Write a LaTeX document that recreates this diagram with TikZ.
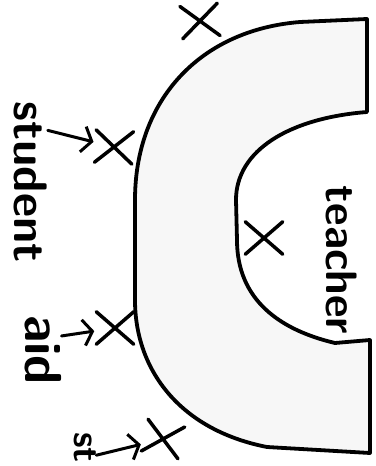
\documentclass[tikz,border=0pt]{standalone}
\usetikzlibrary{positioning}
\usetikzlibrary{calc}
\usetikzlibrary{arrows.meta}
\usetikzlibrary{shapes.misc}

\tikzset{
  xmark/.style={draw, cross out, line width=3.5pt, line cap=round,
    minimum width=34pt, minimum height=29pt, inner sep=0pt},
  handlabel/.style={rotate=-90, inner sep=0pt,
    font=\sffamily\bfseries\fontsize{#1}{#1}\selectfont},
  pointer/.style={-{Straight Barb[length=9pt, width=26pt, line width=3pt]},
    line width=3pt, line cap=round, shorten >=2pt}
}

\begin{document}
\begin{tikzpicture}[x=1pt, y=-1pt]
    \clip (0,0) rectangle (375,466);
    % horseshoe table
    \draw[line width=3.8pt, line join=round, fill=black!3]
        (367,19) -- (300,22) .. controls (200,30) and (135,100) .. (135,200)
        -- (135,300) .. controls (135,370) and (180,430) .. (267,447)
        -- (370,453) -- (370,340) -- (335,343)
        .. controls (280,330) and (237,300) .. (237,240)
        -- (236,200) .. controls (236,150) and (290,118) .. (367,112) -- cycle;

    % seats
    \foreach \nm/\px/\py/\ang in {top/200/21/5, student/114/147/-3,
        inner/264/238/0, aid/115/328/0, bottom/163/439/-12}
        \node[xmark, rotate=\ang] (x-\nm) at (\px,\py) {};

    \node[handlabel=47] (lbl-student) at (31,182) {student};
    \node[handlabel=52] (lbl-aid) at (43,350) {aid};
    \node[handlabel=44] (lbl-teacher) at (342,260) {teacher};
    \node[handlabel=37, anchor=west] (lbl-st) at (85,432) {st};

    \draw[pointer] ($(lbl-student.north west)!0.18!(lbl-student.north east)$) -- (x-student);
    \draw[pointer] ($(lbl-aid.north west)!0.3!(lbl-aid.north east)$) -- (x-aid);
    \draw[pointer] ($(lbl-st.north west)!0.75!(lbl-st.north east)$) -- (x-bottom);
\end{tikzpicture}
\end{document}
